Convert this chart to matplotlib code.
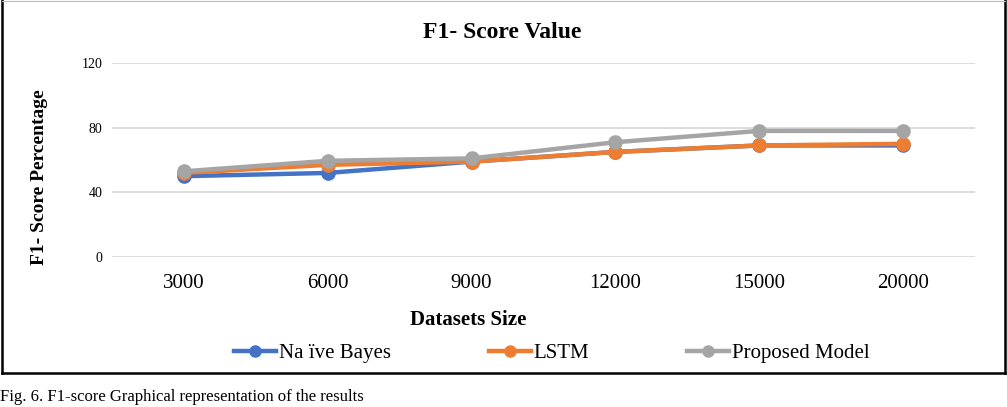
import matplotlib
matplotlib.use("Agg")
import matplotlib.pyplot as plt
from matplotlib.lines import Line2D

plt.rcParams['font.family'] = ['Liberation Serif', 'DejaVu Serif']

categories = ["3000", "6000", "9000", "12000", "15000", "20000"]
naive_bayes = [50, 52, 59, 65, 69, 69]
lstm = [52, 57, 59, 65, 69, 70]
proposed = [53, 59.5, 61, 71, 78, 78]
series_names = ["Na ïve Bayes", "LSTM", "Proposed Model"]
colors = ["#4472C4", "#ED7D31", "#A5A5A5"]
yticks = [0, 40, 80, 120]

W, H = 1007, 407
fig = plt.figure(figsize=(W / 100, H / 100), dpi=100)

def fx(px):
    return px / W

def fy(py):
    return 1 - py / H

ax = fig.add_axes([fx(112), fy(257), fx(975) - fx(112), fy(63) - fy(257)])
x = list(range(len(categories)))
for vals, c, name in zip([naive_bayes, lstm, proposed], colors, series_names):
    ax.plot(x, vals, color=c, lw=3.2, marker='o', ms=9.5, label=name,
            solid_capstyle='round', zorder=3)

ax.set_xlim(-0.5, len(categories) - 0.5)
ax.set_ylim(0, 120)
ax.set_yticks(yticks)
ax.set_yticklabels([str(v) for v in yticks], fontsize=10)
ax.set_xticks(x)
ax.set_xticklabels(categories, fontsize=15)
ax.tick_params(axis='both', length=0)
ax.tick_params(axis='y', pad=7)
ax.tick_params(axis='x', pad=12)
ax.grid(axis='y', color='#d9d9d9', lw=1.3)
ax.set_axisbelow(True)
for s in ax.spines.values():
    s.set_visible(False)

fig.text(fx(502), fy(32), "F1- Score Value", ha='center', va='center',
         fontsize=17, fontweight='bold')
fig.text(fx(40), fy(177), "F1- Score Percentage", ha='center', va='center',
         rotation=90, fontsize=14, fontweight='bold')
fig.text(fx(468), fy(320), "Datasets Size", ha='center', va='center',
         fontsize=15, fontweight='bold')

handles = [Line2D([0], [0], color=c, lw=3.2, marker='o', ms=8) for c in colors]
fig.legend(handles, series_names, loc='center', bbox_to_anchor=(fx(552), fy(353)),
           ncol=3, frameon=False, fontsize=15, handlelength=2.0,
           handletextpad=0.15, columnspacing=4.7)

# border
fig.add_artist(Line2D([fx(2), fx(2)], [fy(0), fy(373)], color='black', lw=1.8))
fig.add_artist(Line2D([fx(1005), fx(1005)], [fy(0), fy(373)], color='black', lw=1.8))
fig.add_artist(Line2D([fx(2), fx(1005)], [fy(373), fy(373)], color='black', lw=1.8))
fig.add_artist(Line2D([fx(2), fx(1005)], [fy(0.5), fy(0.5)], color='#bbbbbb', lw=0.8))

fig.text(fx(0), fy(397), "Fig. 6. F1-score Graphical representation of the results",
         ha='left', va='center', fontsize=12)

fig.savefig("out.png", dpi=100)
